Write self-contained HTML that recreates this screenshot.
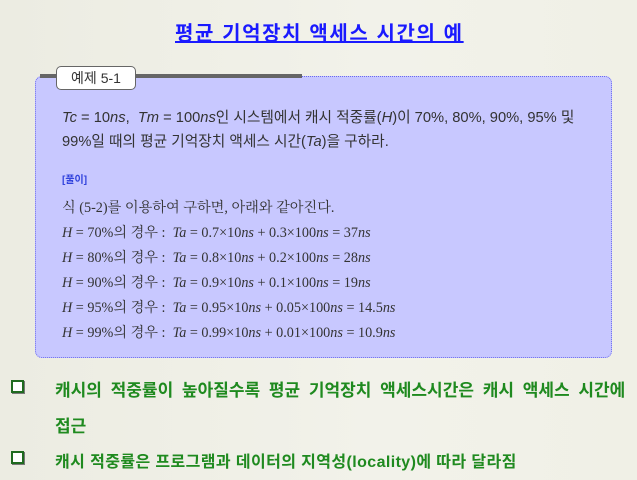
<!DOCTYPE html>
<html><head><meta charset="utf-8">
<style>
body{margin:0;width:637px;height:480px;overflow:hidden;background:linear-gradient(90deg,#ecece2,#f2f2ea 60%,#f0f0e6);font-family:"Liberation Sans","Noto Sans CJK KR",sans-serif;position:relative}
.a{position:absolute;white-space:nowrap}
#title{left:175px;top:17px;font-size:20px;font-weight:bold;color:#1a1aff;text-decoration:underline;letter-spacing:1.6px}
#box{left:35px;top:76px;width:575px;height:280px;background:#c8c8ff;border:1px dotted #6a6aee;border-radius:7px}
#bar{left:40px;top:74px;width:262px;height:4px;background:#666}
#tab{left:56px;top:66px;width:78px;height:22px;background:#fff;border:1px solid #666;border-radius:5px;font-size:14px;line-height:22px;text-align:center;color:#333}
.t{font-size:14.7px;color:#333;left:62px}
.m{font-family:"Liberation Serif","Noto Serif CJK KR",serif;font-size:14.2px;color:#333;left:62px}
.g{font-size:17px;font-weight:bold;color:#1f8a1f;left:55px}
.bx{left:11px;width:9px;height:9px;border:2px solid #1f6a1f;box-shadow:1px 1px 0 #777;background:#fff}
</style></head><body>
<div class="a" id="title">평균 기억장치 액세스 시간의 예</div>
<div class="a" id="box"></div>
<div class="a" id="bar"></div>
<div class="a" id="tab">예제 5-1</div>
<div class="a t" style="top:106px"><i>Tc</i> = 10<i>ns</i>, &nbsp;<i>Tm</i> = 100<i>ns</i>인 시스템에서 캐시 적중률(<i>H</i>)이 70%, 80%, 90%, 95% 및</div>
<div class="a t" style="top:130px">99%일 때의 평균 기억장치 액세스 시간(<i>Ta</i>)을 구하라.</div>
<div class="a" style="left:62px;top:171px;font-size:10px;font-weight:bold;color:#3344dd">[풀이]</div>
<div class="a m" style="top:197px">식 (5-2)를 이용하여 구하면, 아래와 같아진다.</div>
<div class="a m" style="top:222px"><i>H</i> = 70%의 경우 : &nbsp;<i>Ta</i> = 0.7×10<i>ns</i> + 0.3×100<i>ns</i> = 37<i>ns</i></div>
<div class="a m" style="top:247px"><i>H</i> = 80%의 경우 : &nbsp;<i>Ta</i> = 0.8×10<i>ns</i> + 0.2×100<i>ns</i> = 28<i>ns</i></div>
<div class="a m" style="top:272px"><i>H</i> = 90%의 경우 : &nbsp;<i>Ta</i> = 0.9×10<i>ns</i> + 0.1×100<i>ns</i> = 19<i>ns</i></div>
<div class="a m" style="top:297px"><i>H</i> = 95%의 경우 : &nbsp;<i>Ta</i> = 0.95×10<i>ns</i> + 0.05×100<i>ns</i> = 14.5<i>ns</i></div>
<div class="a m" style="top:322px"><i>H</i> = 99%의 경우 : &nbsp;<i>Ta</i> = 0.99×10<i>ns</i> + 0.01×100<i>ns</i> = 10.9<i>ns</i></div>
<div class="a bx" style="top:380px"></div>
<div class="a g" style="top:376px;word-spacing:4px">캐시의 적중률이 높아질수록 평균 기억장치 액세스시간은 캐시 액세스 시간에</div>
<div class="a g" style="top:412px">접근</div>
<div class="a bx" style="top:451px"></div>
<div class="a g" style="top:448px;font-size:16px;letter-spacing:0.4px">캐시 적중률은 프로그램과 데이터의 지역성(locality)에 따라 달라짐</div>
</body></html>
